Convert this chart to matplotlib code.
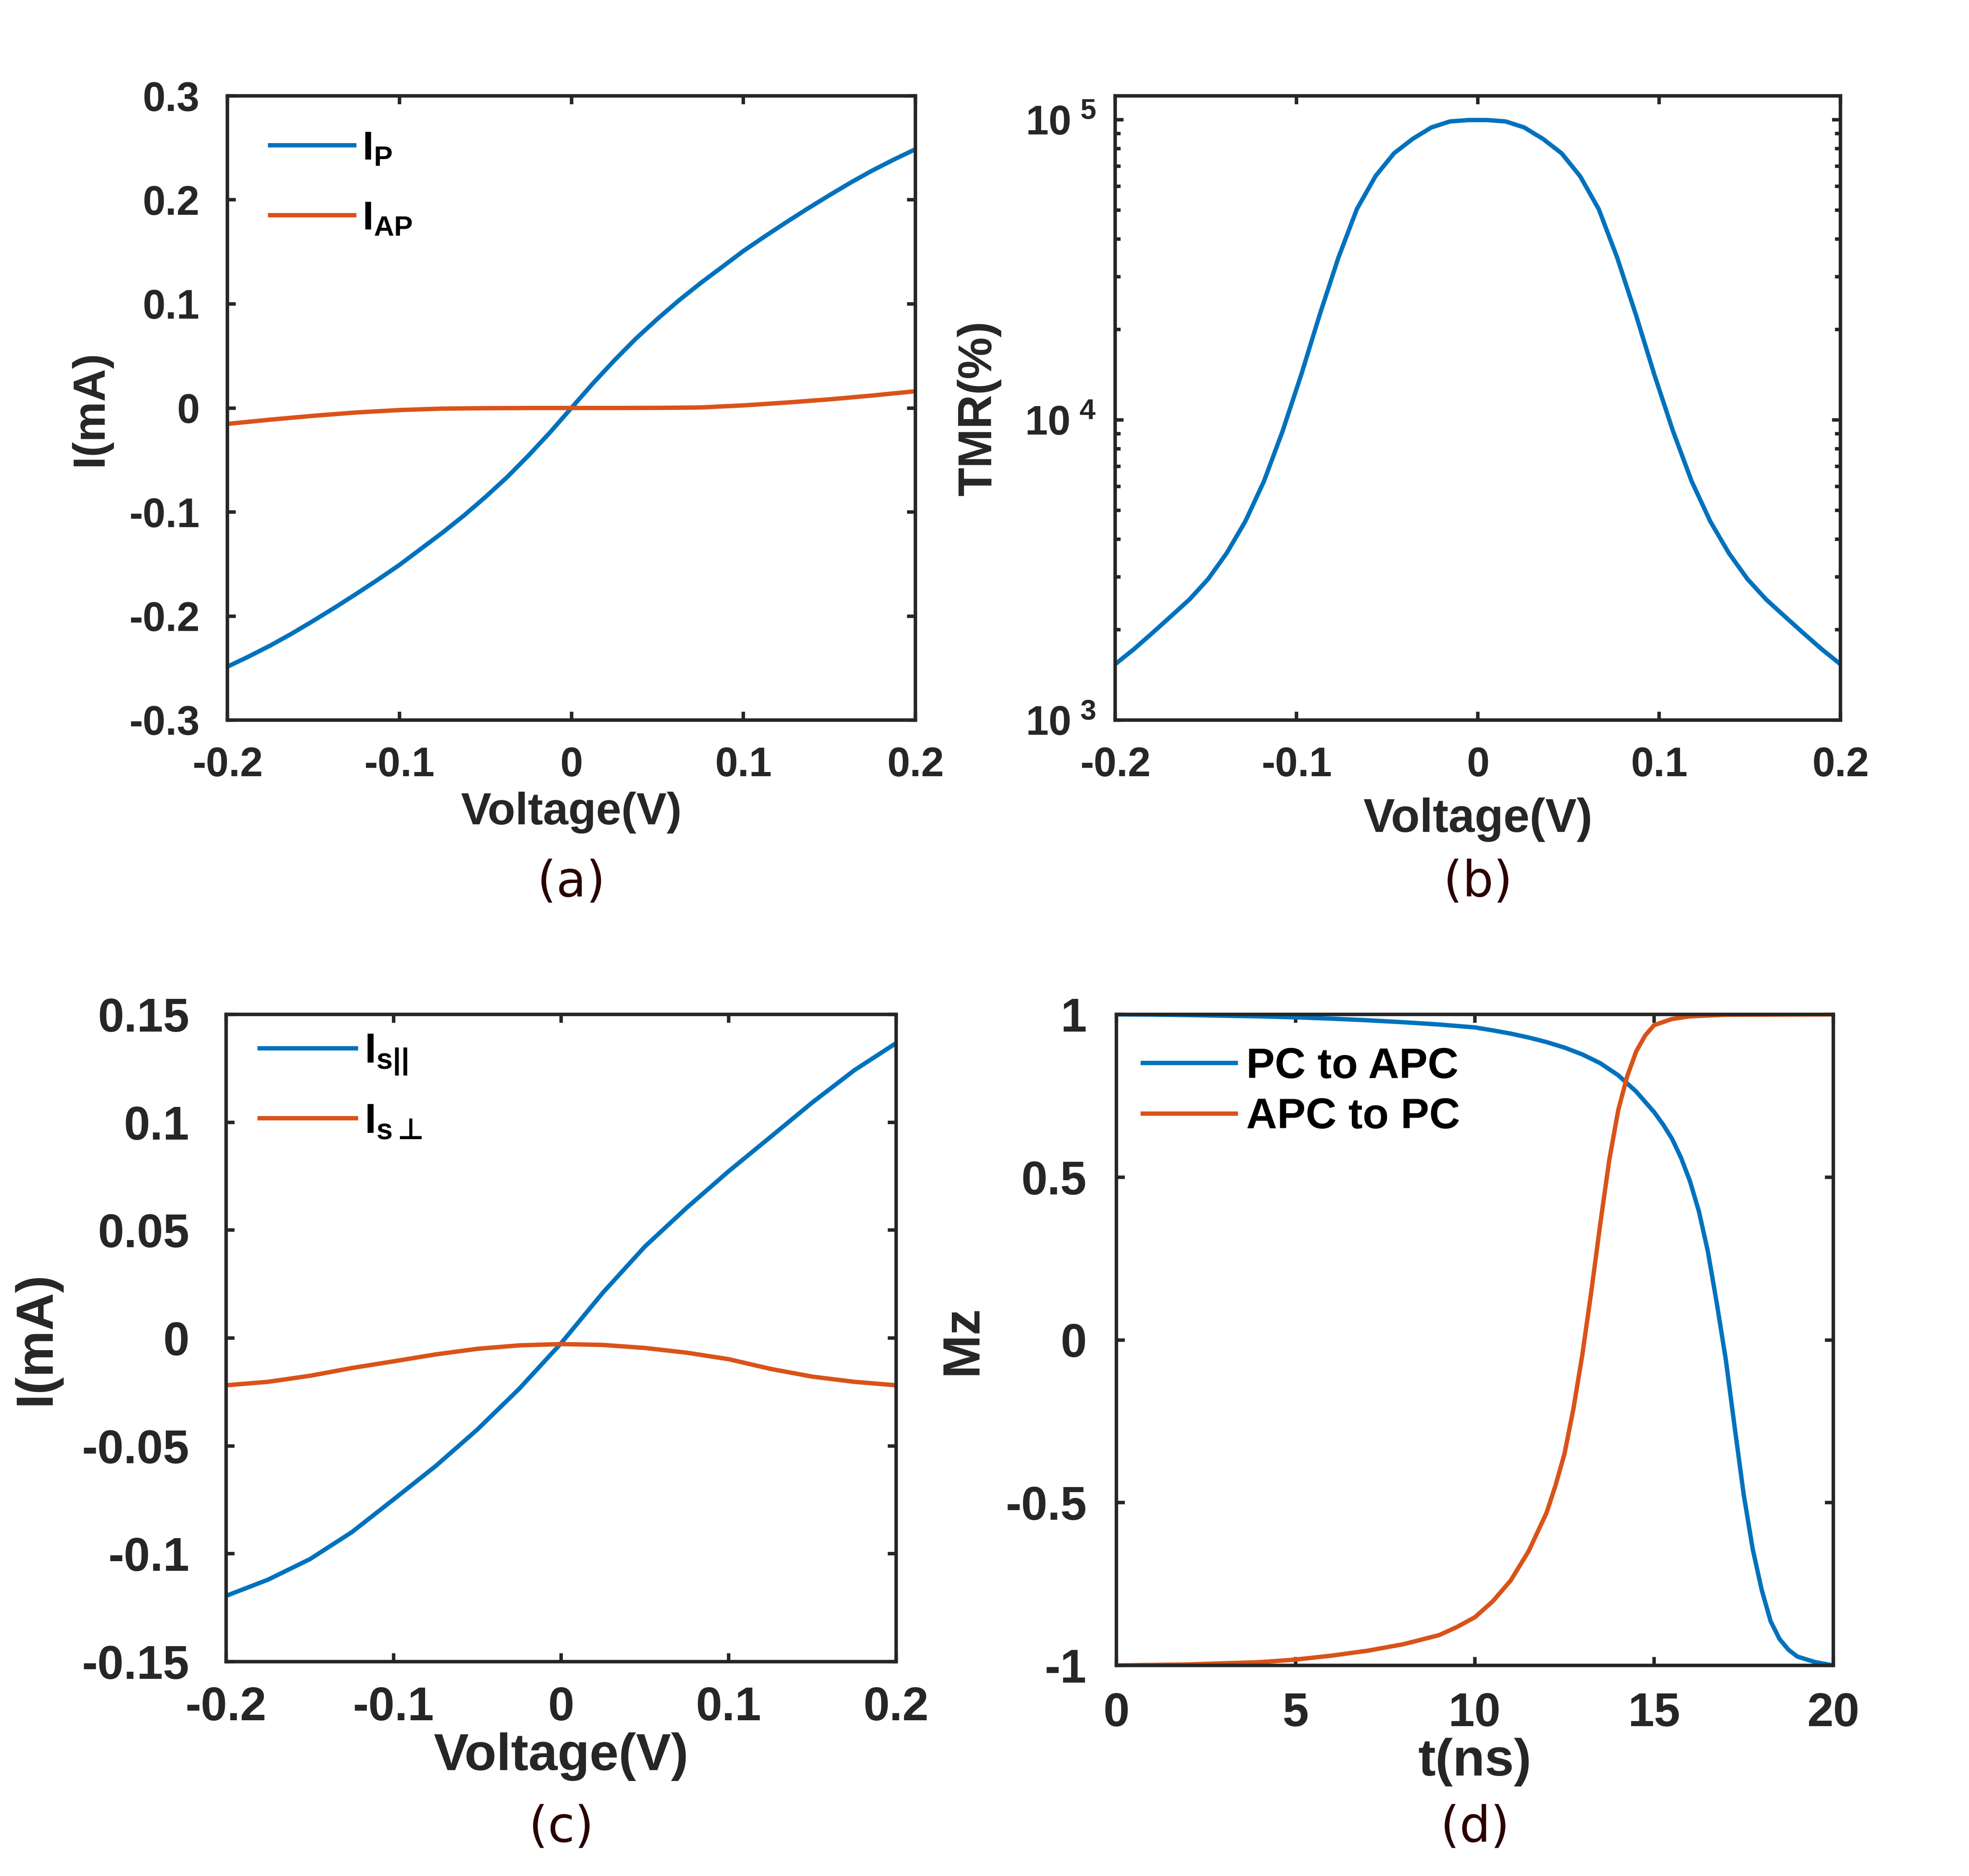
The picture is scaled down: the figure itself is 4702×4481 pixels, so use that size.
import numpy as np
import matplotlib
matplotlib.use('Agg')
import matplotlib.pyplot as plt
from matplotlib.ticker import FuncFormatter, LogLocator, NullFormatter

plt.rcParams['font.family'] = ['Liberation Sans', 'DejaVu Sans']
plt.rcParams['font.weight'] = 'bold'
plt.rcParams['axes.labelweight'] = 'bold'
plt.rcParams['mathtext.fontset'] = 'custom'
plt.rcParams['mathtext.rm'] = 'Liberation Sans:bold'
plt.rcParams['mathtext.bf'] = 'Liberation Sans:bold'
plt.rcParams['mathtext.it'] = 'Liberation Sans:bold'
plt.rcParams['mathtext.sf'] = 'DejaVu Sans'

BLUE = '#0072BD'
ORANGE = '#D95319'
DARK = '#262626'
LW = 2.5

# ---- data (a): I-V of parallel / antiparallel states
volt_a = [-0.2, -0.1875, -0.175, -0.1625, -0.15, -0.1375, -0.125, -0.1125, -0.1,
          -0.0875, -0.075, -0.0625, -0.05, -0.0375, -0.025, -0.0125, 0.0,
          0.0125, 0.025, 0.0375, 0.05, 0.0625, 0.075, 0.0875, 0.1,
          0.1125, 0.125, 0.1375, 0.15, 0.1625, 0.175, 0.1875, 0.2]
i_p_pos = [0.0, 0.0236, 0.0458, 0.0667, 0.0856, 0.1034, 0.1199, 0.1354, 0.1509,
           0.1650, 0.1786, 0.1918, 0.2045, 0.2168, 0.2283, 0.2388, 0.2487]
i_p = [-v for v in i_p_pos[:0:-1]] + i_p_pos

volt = [-0.2, -0.175, -0.15, -0.125, -0.1, -0.075, -0.05, -0.025, 0.0,
        0.025, 0.05, 0.075, 0.1, 0.125, 0.15, 0.175, 0.2]
i_ap = [-0.0153, -0.0112, -0.0075, -0.0043, -0.0020, -0.0006, -0.0002, 0.0, 0.0,
        0.0, 0.0001, 0.0005, 0.0025, 0.0052, 0.0083, 0.0120, 0.0161]

# ---- data (c): spin currents
i_s_par = [-0.1195, -0.1120, -0.1025, -0.0900, -0.0748, -0.0594, -0.0424, -0.0235, -0.0024,
           0.0211, 0.0424, 0.0604, 0.0773, 0.0932, 0.1092, 0.1241, 0.1367]
i_s_perp = [-0.0219, -0.0203, -0.0175, -0.0139, -0.0108, -0.0076, -0.0050, -0.0034, -0.0028,
            -0.0032, -0.0046, -0.0068, -0.0098, -0.0143, -0.0179, -0.0203, -0.0219]

# ---- data (b): TMR vs voltage
volt_tmr = [-0.2, -0.1897, -0.1795, -0.1692, -0.159, -0.1487, -0.1385, -0.1282,
            -0.1179, -0.1077, -0.0974, -0.0872, -0.0769, -0.0667, -0.0564, -0.0462,
            -0.0359, -0.0256, -0.0154, -0.0051,
            0.0051, 0.0154, 0.0256, 0.0359, 0.0462, 0.0564, 0.0667, 0.0769,
            0.0872, 0.0974, 0.1077, 0.1179, 0.1282, 0.1385, 0.1487, 0.159,
            0.1692, 0.1795, 0.1897, 0.2]
tmr_left = [1535, 1722, 1950, 2218, 2523, 2951, 3597, 4592, 6252, 9160,
            14125, 22387, 34670, 50350, 64860, 77270, 86300, 94190, 98630, 99700]
tmr = tmr_left + tmr_left[::-1]

# ---- data (d): Mz switching
t_pc = [0, 1, 2, 3, 4, 5, 6, 7, 8, 9, 10, 10.5, 11, 11.5, 12, 12.5, 13, 13.5, 14, 14.5,
        15, 15.25, 15.5, 15.75, 16, 16.25, 16.5, 16.75, 17, 17.25, 17.5, 17.75,
        18, 18.25, 18.5, 18.75, 19, 19.5, 20]
mz_pc = [1.0, 0.9995, 0.998, 0.996, 0.994, 0.991, 0.987, 0.982, 0.976, 0.969, 0.960,
         0.951, 0.941, 0.929, 0.915, 0.898, 0.877, 0.850, 0.813, 0.763, 0.700, 0.662,
         0.618, 0.560, 0.488, 0.395, 0.272, 0.112, -0.060, -0.270, -0.475, -0.642,
         -0.767, -0.864, -0.919, -0.952, -0.973, -0.990, -1.0]
t_apc = [0, 2, 4, 5, 6, 7, 8, 9, 9.5, 10, 10.5, 11, 11.5, 12, 12.25, 12.5, 12.75,
         13, 13.25, 13.5, 13.75, 14, 14.25, 14.5, 14.75, 15, 15.5, 16, 17, 20]
mz_apc = [-1.0, -0.997, -0.990, -0.982, -0.970, -0.955, -0.935, -0.907, -0.882,
          -0.852, -0.803, -0.739, -0.649, -0.531, -0.447, -0.350, -0.211, -0.044,
          0.150, 0.358, 0.553, 0.706, 0.810, 0.886, 0.935, 0.967, 0.986, 0.994,
          0.999, 1.0]

W, H = 4702, 4481
fig = plt.figure(figsize=(W / 300, H / 300), dpi=300)


def px_axes(left, right, top, bottom):
    return fig.add_axes([left / W, 1 - bottom / H, (right - left) / W, (bottom - top) / H])


def g_fmt(v, pos):
    v = round(v, 6)
    if v == 0:
        return '0'
    return '%g' % v


def style(ax, tsize, xpad, ypad):
    for s in ax.spines.values():
        s.set_linewidth(2.0)
        s.set_color(DARK)
    ax.tick_params(which='both', direction='in', top=True, right=True,
                   width=2.0, color=DARK, labelcolor=DARK, labelsize=tsize)
    ax.tick_params(which='major', length=4.8)
    ax.tick_params(which='minor', length=3.2)
    ax.tick_params(axis='x', pad=xpad)
    ax.tick_params(axis='y', pad=ypad)


# (a)
ax_a = px_axes(543, 2186, 229, 1720)
ax_a.plot(volt_a, i_p, color=BLUE, lw=LW, label=r'I$_{\mathrm{P}}$')
ax_a.plot(volt, i_ap, color=ORANGE, lw=LW, label=r'I$_{\mathrm{AP}}$')
ax_a.set_xlim(-0.2, 0.2)
ax_a.set_ylim(-0.3, 0.3)
ax_a.set_xticks([-0.2, -0.1, 0, 0.1, 0.2])
ax_a.set_yticks([-0.3, -0.2, -0.1, 0, 0.1, 0.2, 0.3])
ax_a.xaxis.set_major_formatter(FuncFormatter(g_fmt))
ax_a.yaxis.set_major_formatter(FuncFormatter(g_fmt))
style(ax_a, 23.5, 15, 16)
ax_a.set_xlabel('Voltage(V)', fontsize=26, color=DARK)
ax_a.set_ylabel('I(mA)', fontsize=26, color=DARK)
ax_a.xaxis.set_label_coords(0.5, -0.115)
ax_a.yaxis.set_label_coords(-0.169, 0.5)
ax_a.legend(loc='upper left', bbox_to_anchor=(0.062, 0.945), frameon=False,
            fontsize=23, handlelength=2.1, handletextpad=0.2, labelspacing=0.8,
            borderaxespad=0, borderpad=0)

# (b)
ax_b = px_axes(2663, 4395, 229, 1720)
ax_b.semilogy(volt_tmr, tmr, color=BLUE, lw=LW)
ax_b.set_xlim(-0.2, 0.2)
ax_b.set_ylim(1e3, 1.2e5)
ax_b.set_xticks([-0.2, -0.1, 0, 0.1, 0.2])
ax_b.xaxis.set_major_formatter(FuncFormatter(g_fmt))
ax_b.yaxis.set_major_locator(LogLocator(base=10, numticks=10))
ax_b.yaxis.set_minor_locator(LogLocator(base=10, subs=np.arange(2, 10), numticks=10))
ax_b.yaxis.set_major_formatter(FuncFormatter(
    lambda v, p: r'$\mathrm{10^{\,\,%d}}$' % int(round(np.log10(v)))))
ax_b.yaxis.set_minor_formatter(NullFormatter())
style(ax_b, 23.5, 15, 11)
ax_b.set_xlabel('Voltage(V)', fontsize=27, color=DARK)
ax_b.set_ylabel('TMR(%)', fontsize=27, color=DARK)
ax_b.xaxis.set_label_coords(0.5, -0.124)
ax_b.yaxis.set_label_coords(-0.157, 0.5)

# (c)
ax_c = px_axes(540, 2140, 2423, 3969)
ax_c.plot(volt, i_s_par, color=BLUE, lw=LW, label=r'I$_{\mathrm{s||}}$')
ax_c.plot(volt, i_s_perp, color=ORANGE, lw=LW, label='I$_{\\mathrm{s}\\,\\mathsf{\u22a5}}$')
ax_c.set_xlim(-0.2, 0.2)
ax_c.set_ylim(-0.15, 0.15)
ax_c.set_xticks([-0.2, -0.1, 0, 0.1, 0.2])
ax_c.set_yticks([-0.15, -0.1, -0.05, 0, 0.05, 0.1, 0.15])
ax_c.xaxis.set_major_formatter(FuncFormatter(g_fmt))
ax_c.yaxis.set_major_formatter(FuncFormatter(g_fmt))
style(ax_c, 27, 14, 21)
ax_c.set_xlabel('Voltage(V)', fontsize=30, color=DARK)
ax_c.set_ylabel('I(mA)', fontsize=30, color=DARK)
ax_c.xaxis.set_label_coords(0.5, -0.109)
ax_c.yaxis.set_label_coords(-0.247, 0.5)
ax_c.legend(loc='upper left', bbox_to_anchor=(0.05, 0.972), frameon=False,
            fontsize=24, handlelength=2.3, handletextpad=0.2, labelspacing=0.6,
            borderaxespad=0, borderpad=0)

# (d)
ax_d = px_axes(2666, 4378, 2423, 3978)
ax_d.plot(t_pc, mz_pc, color=BLUE, lw=LW, label='PC to APC')
ax_d.plot(t_apc, mz_apc, color=ORANGE, lw=LW, label='APC to PC')
ax_d.set_xlim(0, 20)
ax_d.set_ylim(-1, 1)
ax_d.set_xticks([0, 5, 10, 15, 20])
ax_d.set_yticks([-1, -0.5, 0, 0.5, 1])
ax_d.xaxis.set_major_formatter(FuncFormatter(g_fmt))
ax_d.yaxis.set_major_formatter(FuncFormatter(g_fmt))
style(ax_d, 27, 15, 17)
ax_d.set_xlabel('t(ns)', fontsize=30, color=DARK)
ax_d.set_ylabel('Mz', fontsize=30, color=DARK)
ax_d.xaxis.set_label_coords(0.5, -0.111)
ax_d.yaxis.set_label_coords(-0.18, 0.5)
ax_d.legend(loc='upper left', bbox_to_anchor=(0.037, 0.95), frameon=False,
            fontsize=24.5, handlelength=2.17, handletextpad=0.25, labelspacing=0.25,
            borderaxespad=0, borderpad=0)

# sub-figure tags under each panel
for ax, tag, ypx in [(ax_a, '(a)', 2109), (ax_b, '(b)', 2109),
                     (ax_c, '(c)', 4367), (ax_d, '(d)', 4367)]:
    pos = ax.get_position()
    fig.text(pos.x0 + pos.width / 2, 1 - ypx / H, tag, ha='center', va='center',
             family='DejaVu Sans', fontweight='normal', fontsize=28, color='#2b0000')

fig.savefig('out.png', dpi=300)
